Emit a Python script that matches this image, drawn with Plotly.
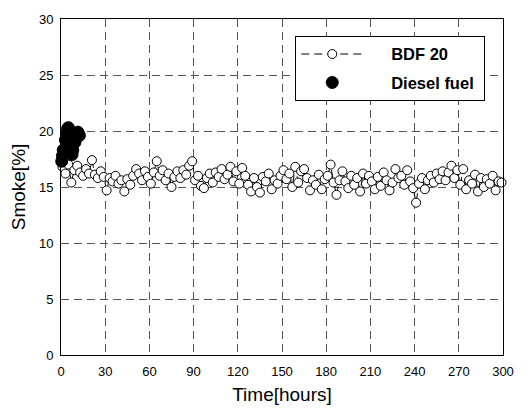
import plotly.graph_objects as go

# BDF 20 smoke data
bdf_time = [1, 3, 5, 7, 9, 11, 13, 15, 17, 19, 21, 23, 25, 27, 29,
            31, 33, 35, 37, 39, 41, 43, 45, 47, 49, 51, 53, 55, 57, 59,
            61, 63, 65, 67, 69, 71, 73, 75, 77, 79, 81, 83, 85, 87, 89,
            91, 93, 95, 97, 99, 101, 103, 105, 107, 109, 111, 113, 115, 117, 119,
            121, 123, 125, 127, 129, 131, 133, 135, 137, 139, 141, 143, 145, 147, 149,
            151, 153, 155, 157, 159, 161, 163, 165, 167, 169, 171, 173, 175, 177, 179,
            181, 183, 185, 187, 189, 191, 193, 195, 197, 199, 201, 203, 205, 207, 209,
            211, 213, 215, 217, 219, 221, 223, 225, 227, 229, 231, 233, 235, 237, 239,
            241, 243, 245, 247, 249, 251, 253, 255, 257, 259, 261, 263, 265, 267, 269,
            271, 273, 275, 277, 279, 281, 283, 285, 287, 289, 291, 293, 295, 297, 299]
bdf_smoke = [16.8, 16.2, 17.0, 15.4, 16.5, 16.9, 16.3, 16.0, 16.6, 16.2,
             17.4, 16.1, 15.8, 16.4, 15.9, 14.7, 15.8, 15.5, 16.0, 15.3,
             15.6, 14.6, 15.7, 15.2, 16.0, 16.6, 16.2, 15.6, 16.4, 15.9,
             15.3, 16.3, 17.3, 16.0, 16.5, 15.6, 16.2, 15.0, 15.9, 16.4,
             15.8, 16.5, 16.1, 16.9, 17.3, 15.6, 16.0, 15.1, 14.9, 15.8,
             16.2, 15.4, 16.3, 15.9, 16.6, 15.7, 16.1, 16.8, 15.5, 16.4,
             15.3, 16.7, 16.0, 15.2, 14.6, 15.8, 15.0, 14.5, 15.9, 15.5,
             16.2, 14.8, 15.6, 15.3, 16.0, 16.5, 15.7, 16.2, 15.0, 16.8,
             15.4, 16.4, 16.6, 15.8, 14.7, 15.6, 15.2, 16.1, 14.8, 15.7,
             16.0, 17.0, 15.4, 14.3, 15.6, 16.4, 15.5, 14.9, 16.0, 15.2,
             15.8, 14.6, 16.2, 15.3, 16.0, 15.5, 14.8, 15.9, 15.1, 16.3,
             15.6, 14.7, 15.4, 16.6, 15.8, 16.0, 15.2, 16.5, 15.5, 14.9,
             13.6, 15.3, 15.8, 14.8, 15.6, 16.0, 15.4, 16.2, 15.7, 16.4,
             15.6, 16.3, 16.9, 15.8, 16.5, 15.2, 16.6, 14.8, 15.6, 15.3,
             16.1, 14.6, 15.8, 15.0, 15.7, 15.3, 16.0, 14.7, 15.5, 15.4]

# Diesel fuel smoke data
diesel_time = [0.5, 1.0, 1.5, 2.5, 3.0, 4.0, 4.5, 5.0, 6.0, 6.5, 7.5, 8.0, 9.5, 10.5, 11.5, 12.5]
diesel_smoke = [17.3, 17.8, 18.3, 18.0, 19.2, 19.8, 20.2, 20.3, 19.6, 18.5, 17.9, 18.3, 19.0, 19.5, 19.9, 19.6]

x_ticks = [0, 30, 60, 90, 120, 150, 180, 210, 240, 270, 300]
y_ticks = [0, 5, 10, 15, 20, 25, 30]

fig = go.Figure()
fig.add_trace(go.Scatter(
    x=bdf_time, y=bdf_smoke, mode="lines+markers",
    name="<b>\u00a0\u00a0\u00a0\u00a0\u00a0BDF 20</b>", legendgroup="a",
    line=dict(color="black", width=1, dash="8px,5px"),
    marker=dict(symbol="circle", size=9, color="white", line=dict(color="black", width=1)),
    cliponaxis=False,
))
fig.add_trace(go.Scatter(
    x=diesel_time, y=diesel_smoke, mode="markers",
    name="<b>\u00a0\u00a0\u00a0\u00a0\u00a0Diesel fuel\u00a0</b>", legendgroup="b",
    marker=dict(symbol="circle", size=12, color="black", line=dict(color="black", width=1)),
    cliponaxis=False,
))

axis_common = dict(
    showline=True, linecolor="black", linewidth=1, mirror=True,
    showgrid=True, gridcolor="#555555", gridwidth=1, griddash="8px,5px",
    zeroline=False, ticks="", ticklabelstandoff=4, ticklabeloverflow="allow",
    tickfont=dict(family="Liberation Sans", size=13, color="black"),
)

fig.update_xaxes(range=[0, 300], tickvals=x_ticks,
                 title=dict(text="Time[hours]", font=dict(family="Liberation Sans", size=19, color="black"), standoff=10),
                 **axis_common)
fig.update_yaxes(range=[0, 30], tickvals=y_ticks,
                 title=dict(text="Smoke[%]", font=dict(family="Liberation Sans", size=19, color="black"), standoff=8),
                 **axis_common)

fig.update_layout(
    width=522, height=405,
    margin=dict(l=53, r=27, t=4, b=58),
    plot_bgcolor="white", paper_bgcolor="white",
    font=dict(family="Liberation Sans", color="black"),
    legend=dict(
        x=0.53, y=0.95, xanchor="left", yanchor="top",
        bgcolor="white", bordercolor="black", borderwidth=1,
        font=dict(family="Liberation Sans", size=16.5, color="black"),
        itemwidth=62, traceorder="grouped", tracegroupgap=4,
    ),
)

fig.write_html("out.html")
